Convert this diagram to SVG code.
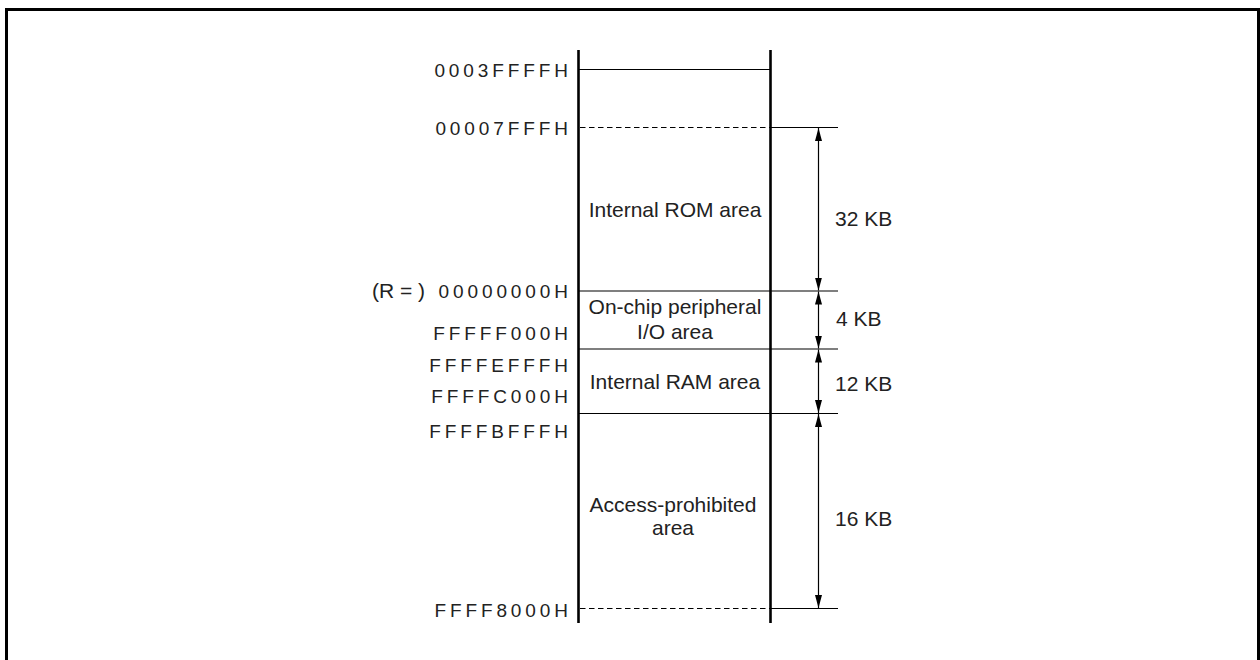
<svg xmlns="http://www.w3.org/2000/svg" width="1260" height="660" viewBox="0 0 1260 660">
<style>
.addr{font-family:"Liberation Sans",Arial,sans-serif;font-size:19px;letter-spacing:3.9px;text-anchor:end;fill:#222}
.lbl{font-family:"Liberation Sans",Arial,sans-serif;font-size:21px;fill:#222}
.mid{text-anchor:middle}
.thin{stroke:#000;stroke-width:1.2;fill:none}
.dash{stroke:#000;stroke-width:1.2;stroke-dasharray:5.5 3.5;fill:none}
.thick{stroke:#000;stroke-width:2.6;fill:none}
.arr{stroke:#000;stroke-width:1.2;fill:none;marker-start:url(#ah);marker-end:url(#ah)}
</style>
<defs>
<marker id="ah" markerUnits="userSpaceOnUse" markerWidth="14" markerHeight="8" refX="13" refY="3.5" orient="auto-start-reverse" viewBox="0 0 14 7">
<path d="M0,0 L13,3.5 L0,7 Z" fill="#000"/>
</marker>
</defs>
<rect x="6.5" y="9.5" width="1252" height="700" fill="none" stroke="#000" stroke-width="3"/>

<g id="connectors">
<line class="thin" x1="578" y1="69.5" x2="770" y2="69.5"/>
<line class="dash" x1="580" y1="127.5" x2="770" y2="127.5"/>
<line class="thin" x1="770" y1="127.5" x2="838" y2="127.5"/>
<line class="thin" x1="578" y1="291" x2="838" y2="291"/>
<line class="thin" x1="578" y1="349" x2="838" y2="349"/>
<line class="thin" x1="578" y1="413.5" x2="838" y2="413.5"/>
<line class="dash" x1="580" y1="608.5" x2="770" y2="608.5"/>
<line class="thin" x1="770" y1="608.5" x2="838" y2="608.5"/>
<line class="arr" x1="818.5" y1="128" x2="818.5" y2="290.5"/>
<line class="arr" x1="818.5" y1="291.5" x2="818.5" y2="348.5"/>
<line class="arr" x1="818.5" y1="349.5" x2="818.5" y2="413"/>
<line class="arr" x1="818.5" y1="414" x2="818.5" y2="608"/>
</g>

<g id="memory-map">
<line class="thick" x1="578.5" y1="50" x2="578.5" y2="623"/>
<line class="thick" x1="770.5" y1="50" x2="770.5" y2="623"/>
</g>

<g id="addresses">
<text class="addr" x="571.9" y="77">0003FFFFH</text>
<text class="addr" x="571.9" y="135">00007FFFH</text>
<text class="lbl" x="425" y="298" text-anchor="end">(R = )</text>
<text class="addr" x="571.9" y="298">00000000H</text>
<text class="addr" x="571.9" y="340">FFFFF000H</text>
<text class="addr" x="571.9" y="372">FFFFEFFFH</text>
<text class="addr" x="571.9" y="403">FFFFC000H</text>
<text class="addr" x="571.9" y="438">FFFFBFFFH</text>
<text class="addr" x="571.9" y="617">FFFF8000H</text>
</g>

<g id="rom-area"><text class="lbl mid" x="675" y="217">Internal ROM area</text></g>
<g id="io-area"><text class="lbl mid" x="675" y="314">On-chip peripheral</text><text class="lbl mid" x="675" y="339">I/O area</text></g>
<g id="ram-area"><text class="lbl mid" x="675" y="389">Internal RAM area</text></g>
<g id="prohibited-area"><text class="lbl mid" x="673" y="512">Access-prohibited</text><text class="lbl mid" x="673" y="535">area</text></g>

<g id="sizes">
<text class="lbl" x="835" y="226">32 KB</text>
<text class="lbl" x="836" y="326">4 KB</text>
<text class="lbl" x="835" y="391">12 KB</text>
<text class="lbl" x="835" y="526">16 KB</text>
</g>
</svg>
